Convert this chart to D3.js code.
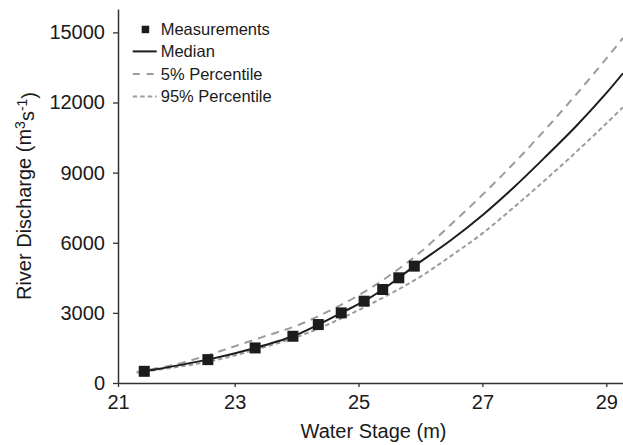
<!DOCTYPE html>
<html>
<head>
<meta charset="utf-8">
<script src="https://cdn.jsdelivr.net/npm/d3@7"></script>
<style>
  body { margin: 0; background: #fff; }
  svg { display: block; font-family: "Liberation Sans", Arial, Helvetica, sans-serif; }
</style>
</head>
<body>
<div id="chart"></div>
<script>
// axis ticks
const stageTicks = [21, 23, 25, 27, 29];
const dischargeTicks = [0, 3000, 6000, 9000, 12000, 15000];

// measured points (stage m, discharge m3/s)
const measStage = [21.45, 22.54, 23.33, 23.94, 24.35, 24.72, 25.09, 25.39, 25.65, 25.90];
const measQ = [500, 1000, 1500, 2000, 2500, 3000, 3500, 4000, 4500, 5000];

// median rating curve
const medianStage = [21.45, 22.54, 23.33, 23.94, 24.35, 24.72, 25.09, 25.39, 25.65, 25.90, 26.5, 27.0, 27.5, 28.0, 28.5, 29.0, 29.27];
const medianQ = [500, 1000, 1500, 2000, 2500, 3000, 3500, 4000, 4500, 5000, 6130, 7180, 8355, 9630, 10950, 12400, 13250];

// percentile curves
const pctStage = [21.32, 22.0, 22.54, 23.0, 23.5, 24.0, 24.5, 25.0, 25.5, 26.0, 26.5, 27.0, 27.5, 28.0, 28.5, 29.0, 29.27];
const p5Q = [470, 800, 1190, 1570, 2010, 2450, 3050, 3750, 4600, 5600, 6800, 8050, 9380, 10800, 12300, 13880, 14760];
const p95Q = [440, 680, 910, 1180, 1550, 1960, 2500, 3120, 3800, 4550, 5450, 6400, 7500, 8650, 9850, 11100, 11800];

const legendLabels = ["Measurements", "Median", "5% Percentile", "95% Percentile"];

const W = 623, H = 445;
const margin = {Left: 118, Right: 0, Top: 9, Bottom: 62};
const innerW = W - margin.Left - margin.Right;
const innerH = H - margin.Top - margin.Bottom;

const axisColor = "#333333";
const gray = "#9c9c9c";
const ink = "#1e1b1c";

const svg = d3.select("#chart").append("svg")
  .attr("width", W)
  .attr("height", H);

const g = svg.append("g")
  .attr("transform", "translate(" + margin.Left + "," + margin.Top + ")");

// the printed axis is slightly compressed between 21 and 23
const x = d3.scaleLinear().domain([21, 23, 29.27]).range([0, 116.7, innerW]);
const y = d3.scaleLinear().domain([0, 16000]).range([innerH, 0]);

svg.append("clipPath").attr("id", "clip")
  .append("rect").attr("width", innerW).attr("height", innerH + 10).attr("y", -5);

const plot = g.append("g").attr("clip-path", "url(#clip)");

const line = d3.line().x(d => x(d[0])).y(d => y(d[1])).curve(d3.curveCatmullRom.alpha(0.5));

plot.append("path")
  .datum(d3.zip(pctStage, p5Q))
  .attr("d", line)
  .attr("fill", "none")
  .attr("stroke", gray)
  .attr("stroke-width", 2)
  .attr("stroke-dasharray", "8,6");

plot.append("path")
  .datum(d3.zip(pctStage, p95Q))
  .attr("d", line)
  .attr("fill", "none")
  .attr("stroke", gray)
  .attr("stroke-width", 2)
  .attr("stroke-dasharray", "4.5,3");

plot.append("path")
  .datum(d3.zip(medianStage, medianQ))
  .attr("d", line)
  .attr("fill", "none")
  .attr("stroke", ink)
  .attr("stroke-width", 2);

const sq = 11;
g.selectAll(".meas")
  .data(d3.zip(measStage, measQ))
  .enter().append("rect")
  .attr("class", "meas")
  .attr("x", d => x(d[0]) - sq / 2)
  .attr("y", d => y(d[1]) - sq / 2)
  .attr("width", sq)
  .attr("height", sq)
  .attr("fill", ink);

// axes
const xAxis = g.append("g")
  .attr("transform", "translate(0," + innerH + ")")
  .call(d3.axisBottom(x).tickValues(stageTicks).tickFormat(d3.format("d")).tickSize(4).tickSizeOuter(0).tickPadding(8));

const yAxis = g.append("g")
  .call(d3.axisLeft(y).tickValues(dischargeTicks).tickFormat(d3.format("d")).tickSize(5).tickSizeOuter(0).tickPadding(8));

[xAxis, yAxis].forEach(a => {
  a.select(".domain").attr("stroke", axisColor).attr("stroke-width", 1.5);
  a.selectAll(".tick line").attr("stroke", axisColor).attr("stroke-width", 1.3);
  a.selectAll(".tick text")
    .attr("fill", "#1a1a1a")
    .style("font-size", "20px")
    .style("font-family", "\"Liberation Sans\", Arial, sans-serif");
});

// axis titles
svg.append("text")
  .attr("x", margin.Left + innerW / 2 + 3)
  .attr("y", 438)
  .attr("text-anchor", "middle")
  .attr("fill", "#1a1a1a")
  .style("font-size", "20px")
  .text("Water Stage (m)");

const yTitle = svg.append("text")
  .attr("transform", "translate(31," + (margin.Top + innerH / 2) + ") rotate(-90)")
  .attr("text-anchor", "middle")
  .attr("fill", "#1a1a1a")
  .style("font-size", "20px");
yTitle.append("tspan").text("River Discharge (m");
yTitle.append("tspan").attr("dy", "-0.45em").style("font-size", "14px").text("3");
yTitle.append("tspan").attr("dy", "0.45em").text("s");
yTitle.append("tspan").attr("dy", "-0.45em").style("font-size", "14px").text("-1");
yTitle.append("tspan").attr("dy", "0.45em").text(")");

// legend
const lg = svg.append("g").attr("transform", "translate(132.7,34.5)");
const rowH = 22.5;
legendLabels.forEach((lab, i) => {
  const row = lg.append("g").attr("transform", "translate(0," + (i * rowH) + ")");
  if (i === 0) {
    row.append("rect").attr("x", 9).attr("y", -8.8).attr("width", 7.5).attr("height", 7.5).attr("fill", ink);
  } else {
    row.append("line")
      .attr("x1", 0).attr("x2", 24)
      .attr("y1", -5.6).attr("y2", -5.6)
      .attr("stroke", i === 1 ? ink : gray)
      .attr("stroke-width", 2)
      .attr("stroke-dasharray", i === 2 ? "7,7" : (i === 3 ? "4.5,3" : null));
  }
  row.append("text")
    .attr("x", 28)
    .attr("y", 0)
    .attr("fill", "#1a1a1a")
    .style("font-size", "16.5px")
    .text(lab);
});
</script>
</body>
</html>
